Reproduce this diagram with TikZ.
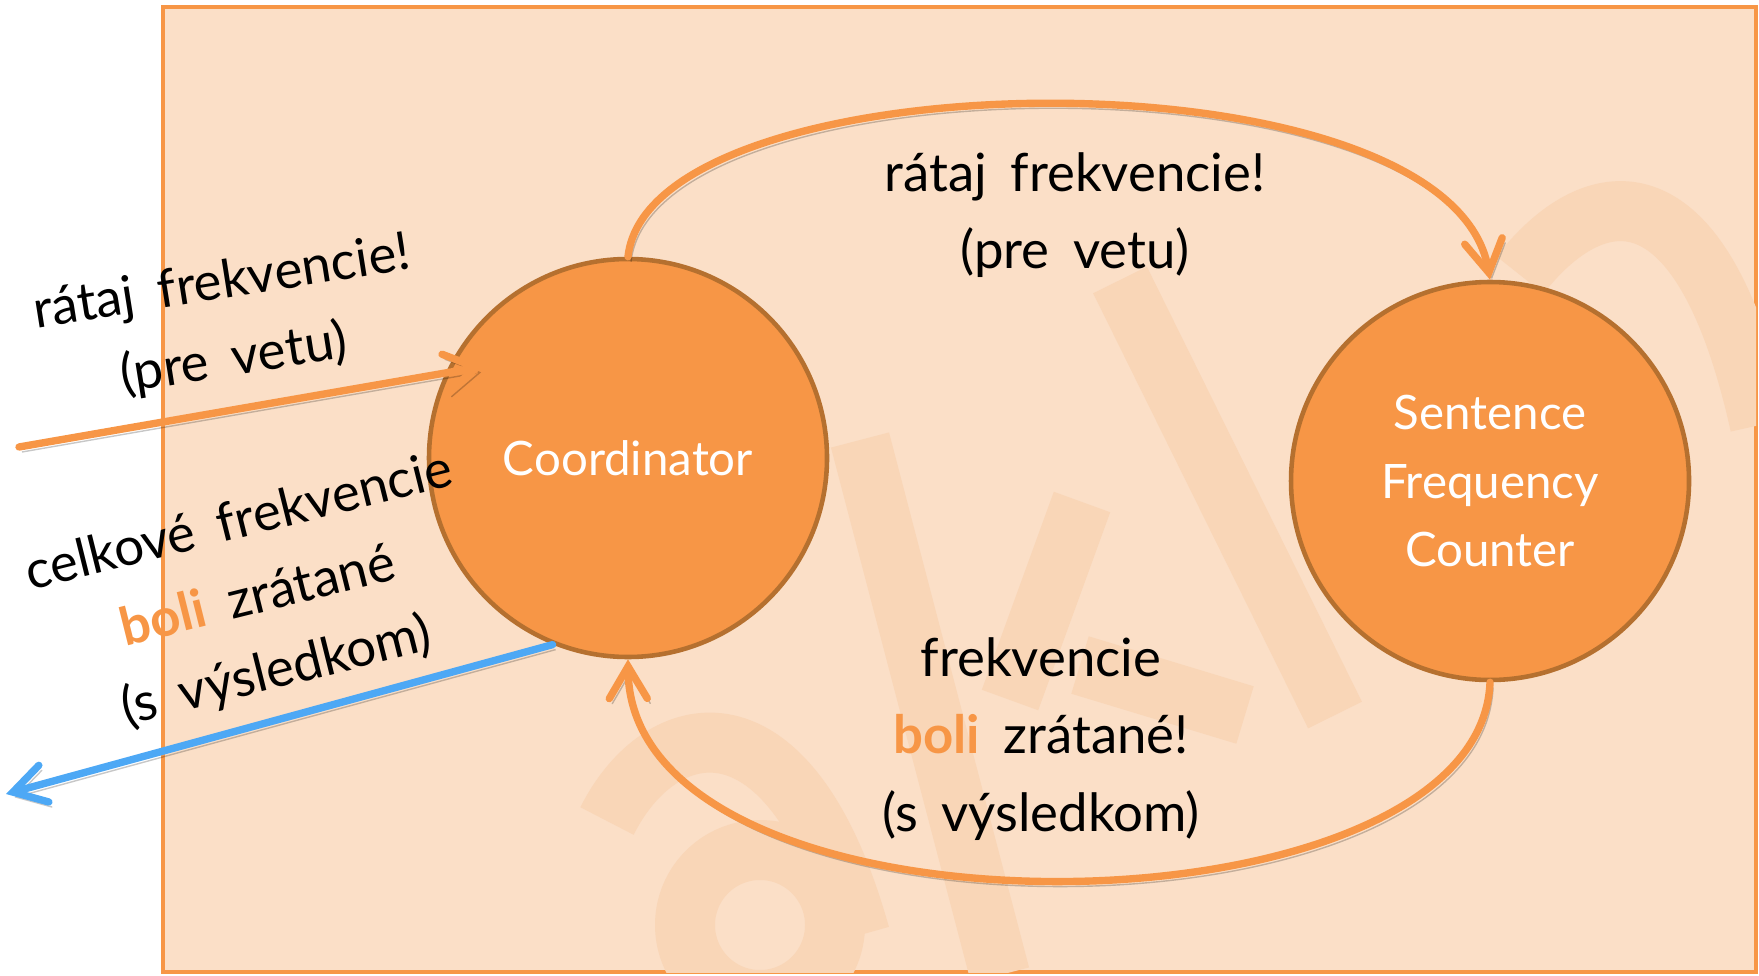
\documentclass[tikz,border=0pt]{standalone}
\usepackage{fontspec}
\setmainfont{Lato}
\usetikzlibrary{arrows.meta,calc}
\definecolor{akkaorange}{HTML}{F79646}
\definecolor{akkaedge}{HTML}{B5702F}
\definecolor{akkapeach}{HTML}{FBDFC7}
\definecolor{akkamark}{HTML}{F9D6B7}
\definecolor{akkablue}{HTML}{4DA8F5}
\newcommand{\msgfont}{\fontsize{15}{22}\selectfont\setlength{\spaceskip}{.45em plus .1em}}

\begin{document}
\begin{tikzpicture}[
  actor/.style={circle,fill=akkaorange,draw=akkaedge,line width=1.3pt,minimum size=3.98cm,inner sep=0pt,
    text=white,align=center,font=\fontsize{13.5}{19.6}\selectfont},
  msg/.style={align=center,font=\msgfont},
  flow/.style={draw=akkaorange,line width=2.1pt,line cap=round,-{Straight Barb[length=3.2mm,width=3.8mm,line cap=round]},
    preaction={draw=black,opacity=.22,transform canvas={shift={(0.3mm,-0.5mm)}}}},
  reply/.style={flow,draw=akkablue},
  wmark/.style={draw=akkamark,line width=6mm}
]
  \useasboundingbox (0,0) rectangle (17.59,9.75);
  \draw[draw=akkaorange,fill=akkapeach,line width=1.2pt] (1.63,0.03) rectangle (17.56,9.68);
  % faint logo in the back
  \begin{scope}
    \clip (1.63,0.03) rectangle (17.56,9.68);
    \draw[wmark] (11.20,6.95) -- (13.35,2.60);
    \draw[wmark] (8.60,5.35) -- (10.00,0);
    \draw[wmark] (10.82,4.73) -- (10.10,2.75);
    \draw[wmark] (10.80,3.10) -- (12.45,2.60);
    \draw[wmark] (6.07,1.54) .. controls (6.60,2.60) and (7.90,2.90) .. (8.60,0.40);
    \draw[wmark] (7.60,0.50) circle (0.75);
    \draw[wmark] (15.20,7.00) .. controls (15.90,7.90) and (17.00,8.20) .. (17.60,5.50);
  \end{scope}

  \node[actor] (coord) at (6.28,5.17) {Coordinator};
  \node[actor] (sfc) at (14.90,4.94) {Sentence\\Frequency\\Counter};

  \node[msg] (askall) at (10.75,7.60) {rátaj frekvencie!\\(pre vetu)};
  \node[msg] (done) at (10.41,2.36) {frekvencie\\{\bfseries\color{akkaorange}boli} zrátané!\\(s výsledkom)};
  \node[msg,rotate=9] (askin) at (2.28,6.53) {rátaj frekvencie!\\(pre vetu)};
  \node[msg,rotate=14] (total) at (2.58,3.77) {celkové frekvencie\\{\bfseries\color{akkaorange}boli} zrátané\\(s výsledkom)};

  \coordinate (inS) at (0.19,5.28);
  \coordinate (outE) at (0.06,1.81);

  \draw[flow] (coord.north) .. controls (6.5,9.2) and (14.5,9.3) .. (sfc.north);
  \draw[flow] (sfc.south) .. controls (14.8,0.3) and (6.3,0.2) .. (coord.south);
  \draw[flow] (inS) -- ($(inS)!1.09!(coord.155)$);
  \draw[reply] (coord.248) -- (outE);
\end{tikzpicture}
\end{document}
